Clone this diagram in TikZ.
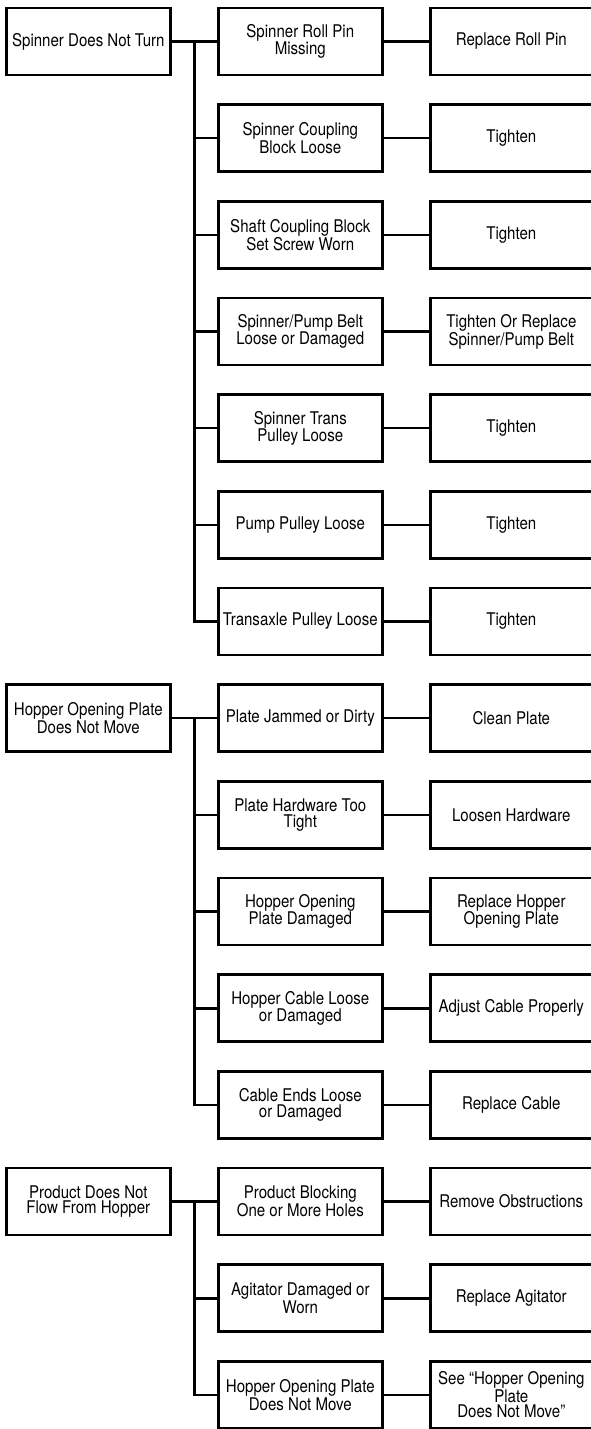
\documentclass[tikz,border=0pt]{standalone}
\usepackage{fontspec}
\setmainfont{TeX Gyre Heros}[FakeStretch=0.86]
\usetikzlibrary{positioning, calc}
\tikzstyle{caja} = [draw=black, line width=2.6pt, rectangle, align=center, inner sep=0pt, outer sep=0pt, minimum height=67pt, font=\fontsize{17.5}{15.5}\selectfont]
\tikzstyle{problema} = [caja, minimum width=164pt]
\tikzstyle{causa} = [caja, minimum width=164pt]
\tikzstyle{arreglo} = [caja, minimum width=162pt]
\tikzstyle{linea} = [draw=black, line width=2.6pt]

\begin{document}
\begin{tikzpicture}[x=1pt, y=1pt, node distance=29.67pt and 48pt]
	\useasboundingbox (0,0) rectangle (590,-1429);
	% primer problema
	\node[causa] (c1) at (300.3,-41.5) {Spinner Roll Pin\\Missing};
	\node[causa, below=of c1] (c2) {Spinner Coupling\\Block Loose};
	\node[causa, below=of c2] (c3) {Shaft Coupling Block\\Set Screw Worn};
	\node[causa, below=of c3] (c4) {Spinner/Pump Belt\\Loose or Damaged};
	\node[causa, below=of c4] (c5) {Spinner Trans\\Pulley Loose};
	\node[causa, below=of c5] (c6) {Pump Pulley Loose};
	\node[causa, below=of c6] (c7) {Transaxle Pulley Loose};
	% segundo problema
	\node[causa, below=of c7] (c8) {Plate Jammed or Dirty};
	\node[causa, below=of c8] (c9) {Plate Hardware Too\\Tight};
	\node[causa, below=of c9] (c10) {Hopper Opening\\Plate Damaged};
	\node[causa, below=of c10] (c11) {Hopper Cable Loose\\or Damaged};
	\node[causa, below=of c11] (c12) {Cable Ends Loose\\or Damaged};
	% tercer problema
	\node[causa, below=of c12] (c13) {Product Blocking\\One or More Holes};
	\node[causa, below=of c13] (c14) {Agitator Damaged or\\Worn};
	\node[causa, below=of c14] (c15) {Hopper Opening Plate\\Does Not Move};

	\node[problema, left=of c1] (p1) {Spinner Does Not Turn};
	\node[problema, left=of c8] (p2) {Hopper Opening Plate\\Does Not Move};
	\node[problema, left=of c13] (p3) {Product Does Not\\Flow From Hopper};

	\node[arreglo, right=of c1] (a1) {Replace Roll Pin};
	\node[arreglo, right=of c2] (a2) {Tighten};
	\node[arreglo, right=of c3] (a3) {Tighten};
	\node[arreglo, right=of c4] (a4) {Tighten Or Replace\\Spinner/Pump Belt};
	\node[arreglo, right=of c5] (a5) {Tighten};
	\node[arreglo, right=of c6] (a6) {Tighten};
	\node[arreglo, right=of c7] (a7) {Tighten};
	\node[arreglo, right=of c8] (a8) {Clean Plate};
	\node[arreglo, right=of c9] (a9) {Loosen Hardware};
	\node[arreglo, right=of c10] (a10) {Replace Hopper\\Opening Plate};
	\node[arreglo, right=of c11] (a11) {Adjust Cable Properly};
	\node[arreglo, right=of c12] (a12) {Replace Cable};
	\node[arreglo, right=of c13] (a13) {Remove Obstructions};
	\node[arreglo, right=of c14] (a14) {Replace Agitator};
	\node[arreglo, right=of c15] (a15) {See “Hopper Opening\\Plate\\Does Not Move”};

	% conectores
	\foreach \i in {1,...,15}
		\draw[linea] (c\i) -- (a\i);
	\draw[linea] (p1) -- (c1);
	\draw[linea] (p2) -- (c8);
	\draw[linea] (p3) -- (c13);
	\coordinate (s1) at ($(p1.east)!.5!(c1.west)$);
	\coordinate (s2) at ($(p2.east)!.5!(c8.west)$);
	\coordinate (s3) at ($(p3.east)!.5!(c13.west)$);
	\draw[linea] (s1) |- (c7.west);
	\foreach \i in {2,...,6}
		\draw[linea] (s1 |- c\i.west) -- (c\i.west);
	\draw[linea] (s2) |- (c12.west);
	\foreach \i in {9,...,11}
		\draw[linea] (s2 |- c\i.west) -- (c\i.west);
	\draw[linea] (s3) |- (c15.west);
	\draw[linea] (s3 |- c14.west) -- (c14.west);
\end{tikzpicture}
\end{document}
